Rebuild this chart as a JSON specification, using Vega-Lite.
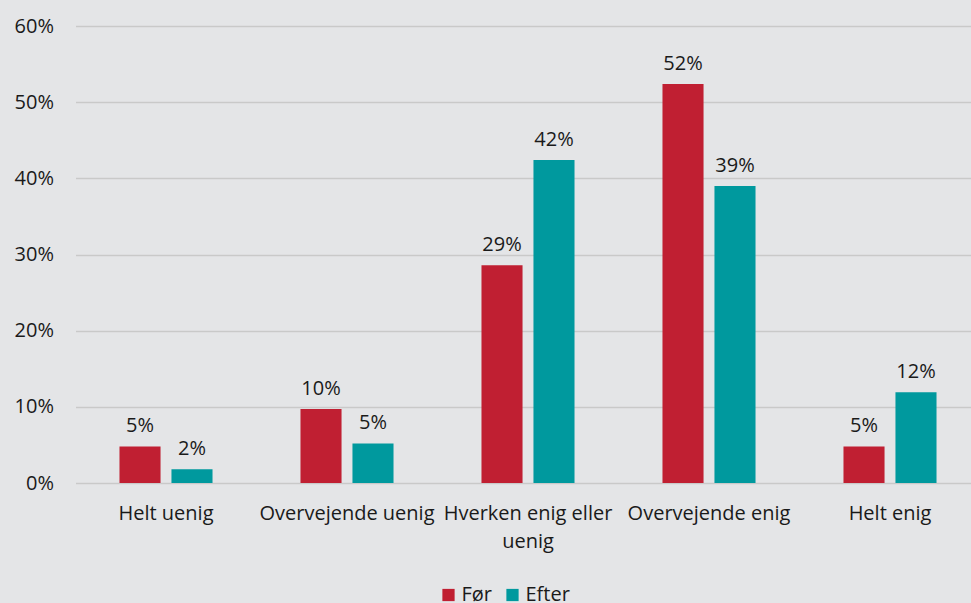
{
  "$schema": "https://vega.github.io/schema/vega-lite/v6.json",
  "autosize": "none",
  "width": 905,
  "height": 457,
  "padding": {"left": 75.5, "top": 26, "right": 0, "bottom": 120},
  "background": "#e4e5e7",
  "config": {
    "view": {"stroke": null},
    "font": "Open Sans",
    "axis": {"labelFont": "Open Sans", "labelColor": "#1a1a1a"},
    "legend": {"labelFont": "Open Sans", "labelColor": "#1a1a1a"}
  },
  "data": {
    "values": [
      {"kategori": "Helt uenig", "gruppe": "Før", "andel": 0.048},
      {"kategori": "Helt uenig", "gruppe": "Efter", "andel": 0.018},
      {"kategori": "Overvejende uenig", "gruppe": "Før", "andel": 0.097},
      {"kategori": "Overvejende uenig", "gruppe": "Efter", "andel": 0.052},
      {"kategori": "Hverken enig eller uenig", "gruppe": "Før", "andel": 0.286},
      {"kategori": "Hverken enig eller uenig", "gruppe": "Efter", "andel": 0.424},
      {"kategori": "Overvejende enig", "gruppe": "Før", "andel": 0.524},
      {"kategori": "Overvejende enig", "gruppe": "Efter", "andel": 0.39},
      {"kategori": "Helt enig", "gruppe": "Før", "andel": 0.048},
      {"kategori": "Helt enig", "gruppe": "Efter", "andel": 0.119}
    ]
  },
  "encoding": {
    "x": {
      "field": "kategori",
      "type": "nominal",
      "sort": ["Helt uenig", "Overvejende uenig", "Hverken enig eller uenig", "Overvejende enig", "Helt enig"],
      "scale": {"paddingInner": 0.486, "paddingOuter": 0.243},
      "axis": {
        "title": null,
        "labelAngle": 0,
        "labelFontSize": 20,
        "labelPadding": 20,
        "labelLineHeight": 28,
        "ticks": false,
        "domain": false,
        "labelLimit": 300,
        "labelExpr": "datum.label == 'Hverken enig eller uenig' ? ['Hverken enig eller', 'uenig'] : datum.label"
      }
    },
    "xOffset": {
      "field": "gruppe",
      "type": "nominal",
      "sort": ["Før", "Efter"],
      "scale": {"paddingInner": 0.21, "paddingOuter": 0}
    },
    "y": {
      "field": "andel",
      "type": "quantitative",
      "scale": {"domain": [0, 0.6]},
      "axis": {
        "title": null,
        "format": ".0%",
        "values": [0, 0.1, 0.2, 0.3, 0.4, 0.5, 0.6],
        "labelFontSize": 20,
        "labelPadding": 22,
        "ticks": false,
        "domain": false,
        "gridColor": "#c9c9c9",
        "gridWidth": 1.3
      }
    }
  },
  "layer": [
    {
      "mark": {"type": "bar"},
      "encoding": {
        "color": {
          "field": "gruppe",
          "type": "nominal",
          "sort": ["Før", "Efter"],
          "scale": {"domain": ["Før", "Efter"], "range": ["#c01f32", "#00999e"]},
          "legend": {
            "title": null,
            "orient": "none",
            "legendX": 363,
            "legendY": 559,
            "direction": "horizontal",
            "symbolType": "square",
            "symbolSize": 150,
            "symbolStrokeWidth": 0,
            "labelFontSize": 20,
            "labelOffset": 3,
            "columnPadding": 10
          }
        }
      }
    },
    {
      "mark": {"type": "text", "baseline": "bottom", "dy": -10, "fontSize": 20, "color": "#1a1a1a"},
      "encoding": {
        "text": {"field": "andel", "type": "quantitative", "format": ".0%"}
      }
    }
  ]
}
